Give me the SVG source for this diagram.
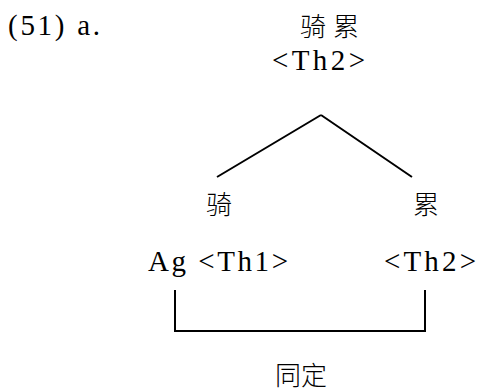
<svg xmlns="http://www.w3.org/2000/svg" width="479" height="392" viewBox="0 0 479 392">
<style>
.t{font-family:'Liberation Serif','DejaVu Serif',serif;font-size:29px;fill:#000}
.c{font-family:'Noto Sans CJK SC',sans-serif;font-size:26px;font-weight:300;fill:#000}
.l{stroke:#000;stroke-width:2;fill:none}
</style>
<rect width="479" height="392" fill="#fff"/>
<g id="label"><text class="t" x="8" y="35" textLength="92" lengthAdjust="spacing">(51) a.</text></g>
<g id="root">
<text class="c" x="300" y="36">骑</text><text class="c" x="333" y="36">累</text>
<text class="t" x="272" y="70" textLength="93" lengthAdjust="spacing">&lt;Th2&gt;</text>
</g>
<g id="left">
<text class="c" x="206" y="214">骑</text>
<text class="t" x="148" y="271" textLength="140" lengthAdjust="spacing">Ag &lt;Th1&gt;</text>
</g>
<g id="right">
<text class="c" x="413" y="214">累</text>
<text class="t" x="384" y="271" textLength="92" lengthAdjust="spacing">&lt;Th2&gt;</text>
</g>
<g id="bottom"><text class="c" x="275" y="385">同定</text></g>
<g id="connectors">
<path class="l" d="M321 115L217 177M321 115L412 177"/>
<path class="l" d="M175 290V331H425V290"/>
</g>
</svg>
